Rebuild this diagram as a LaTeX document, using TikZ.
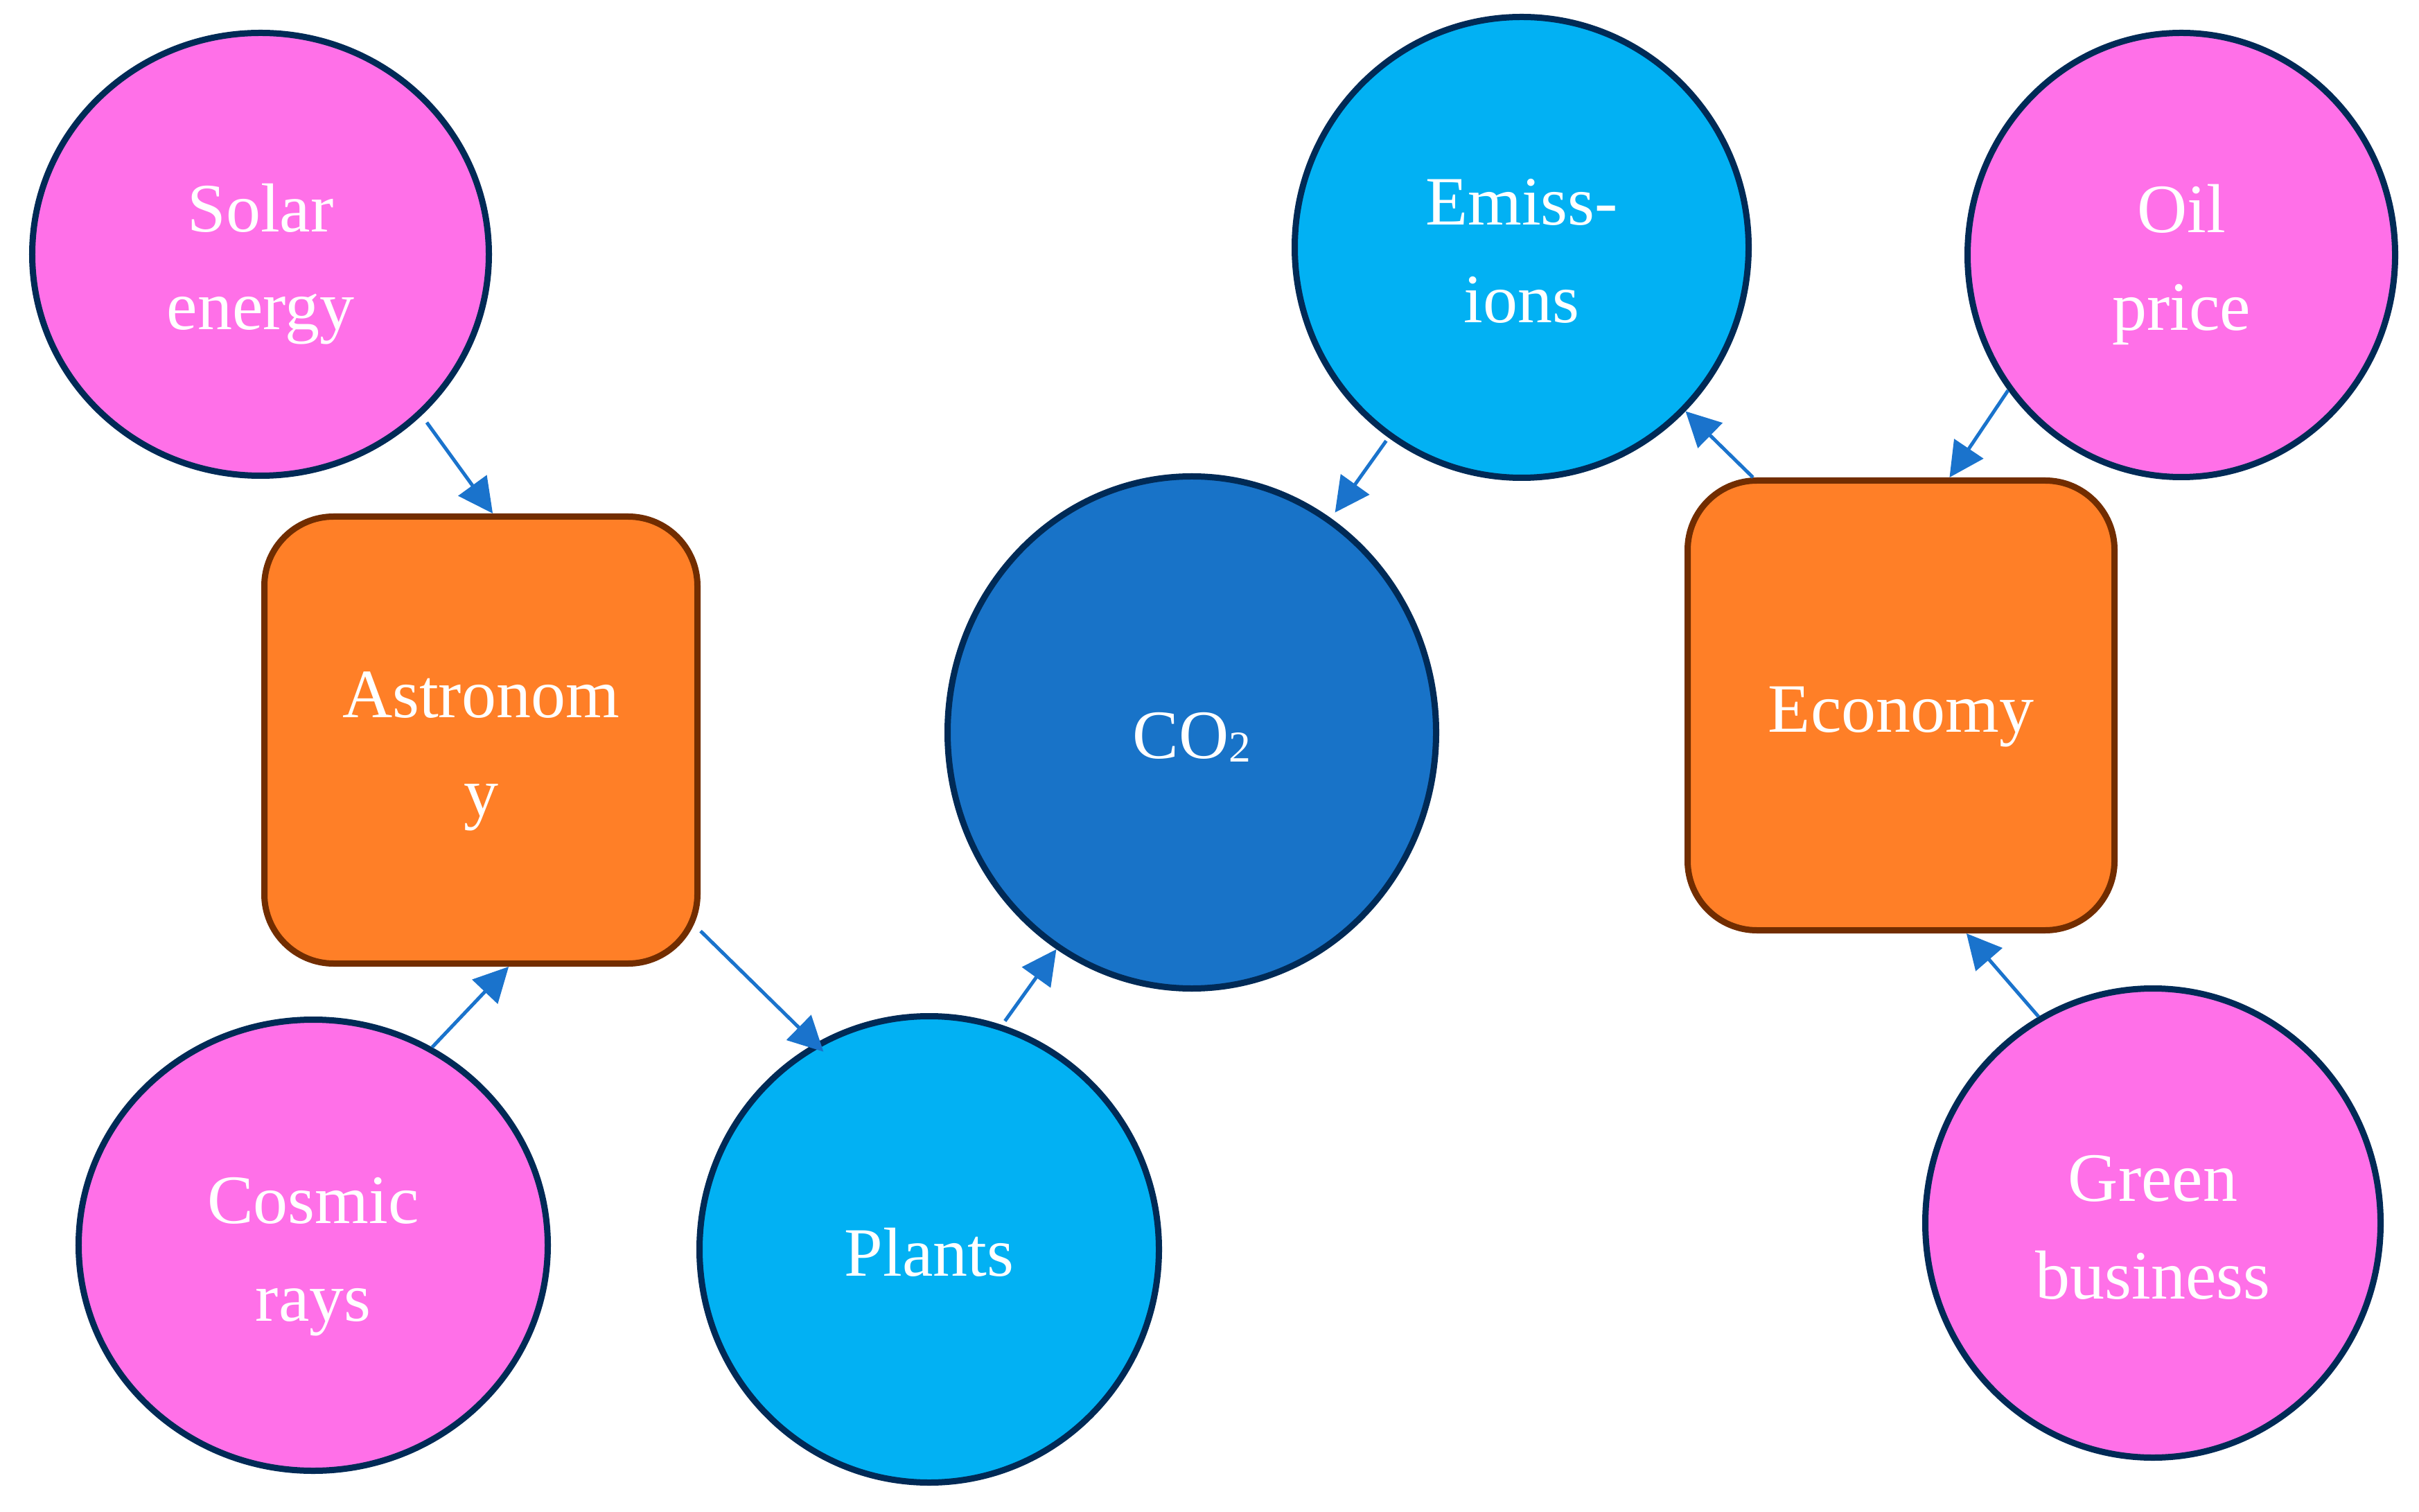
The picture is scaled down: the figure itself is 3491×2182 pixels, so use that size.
\documentclass[tikz,border=0pt]{standalone}
\usepackage{fontspec}
\setmainfont{Liberation Serif}
\usetikzlibrary{shapes.geometric,arrows.meta}
\definecolor{pinkfill}{RGB}{255,112,232}
\definecolor{skyfill}{RGB}{2,177,243}
\definecolor{cofill}{RGB}{24,115,200}
\definecolor{orangefill}{RGB}{255,127,39}
\definecolor{navyline}{RGB}{0,42,86}
\definecolor{brownline}{RGB}{114,45,0}
\definecolor{arrowblue}{RGB}{26,115,204}
\newcommand\twol[2]{\vtop{\halign{\hfil##\hfil\cr#1\cr#2\cr}}}
\newcommand\subtwo{{\fontsize{12.7pt}{12.7pt}\selectfont\raisebox{-1pt}{2}}}
\tikzset{
  nodebase/.style={inner sep=0pt, line width=1.8pt, text=white,
    font=\fontsize{20pt}{28.2pt}\selectfont},
  oneline/.style={text height=15.2pt, text depth=0pt},
  twoline/.style={text height=0pt, text depth=12.8pt},
  ovalnode/.style={nodebase, ellipse, draw=navyline},
  pinknode/.style={ovalnode, fill=pinkfill},
  skynode/.style={ovalnode, fill=skyfill},
  conode/.style={ovalnode, fill=cofill},
  sectornode/.style={nodebase, rectangle, rounded corners=20pt, draw=brownline, fill=orangefill},
  conn/.style={draw=arrowblue, line width=1pt,
    -{Triangle[length=10pt,width=10pt]}, fill=arrowblue}
}
\begin{document}
\begin{tikzpicture}[x=0.2pt,y=-0.2pt]
\useasboundingbox (0,0) rectangle (3491,2182);
\node[pinknode, twoline, minimum width=131.8pt, minimum height=127.8pt] (solar) at (376,367) {\twol{Solar}{energy}};
\node[pinknode, twoline, minimum width=135.4pt, minimum height=130.2pt] (cosmic) at (452,1797) {\twol{Cosmic}{rays}};
\node[sectornode, twoline, minimum width=125pt, minimum height=129pt] (astro) at (694,1068) {\twol{Astronom}{y}};
\node[skynode, oneline, minimum width=132.6pt, minimum height=134.6pt] (plants) at (1341,1803) {Plants};
\node[conode, oneline, minimum width=141pt, minimum height=147.8pt] (co2) at (1720,1057) {CO\subtwo};
\node[skynode, twoline, minimum width=131pt, minimum height=133pt] (emis) at (2196,357) {\twol{Emiss-}{ions}};
\node[pinknode, twoline, minimum width=123.4pt, minimum height=128.2pt] (oil) at (3148,368) {\twol{Oil}{price}};
\node[sectornode, oneline, minimum width=123.2pt, minimum height=129.8pt] (econ) at (2743.5,1018) {Economy};
\node[pinknode, twoline, minimum width=131.4pt, minimum height=135.4pt] (green) at (3107,1765) {\twol{Green}{business}};

\draw[conn, shorten <=2.5pt] (solar.-45.1) -- (astro.87.7);
\draw[conn] (cosmic.59.4) -- (astro.-83.8);
\draw[conn, shorten >=-3.4pt] (astro.-41.8) -- (plants.119.1);
\draw[conn, shorten <=1.4pt] (plants.72.2) -- (co2.-122.6);
\draw[conn, shorten <=1.1pt, shorten >=2pt] (emis.-125.1) -- (co2.57.9);
\draw[conn] (econ.123.7) -- (emis.-45.1);
\draw[conn] (oil.-142.6) -- (econ.78.6);
\draw[conn] (green.119.4) -- (econ.-74.1);
\end{tikzpicture}
\end{document}
